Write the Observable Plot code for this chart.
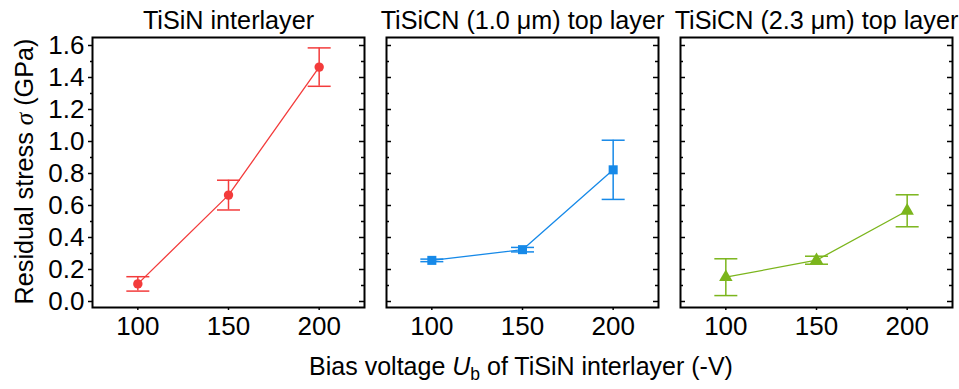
<!DOCTYPE html>
<html>
<head>
<meta charset="utf-8">
<script src="https://cdn.jsdelivr.net/npm/d3@7"></script>
<script src="https://cdn.jsdelivr.net/npm/@observablehq/plot@0.6"></script>
<style>
  html, body { margin: 0; padding: 0; background: white; }
  #chart { width: 959px; height: 389px; }
</style>
</head>
<body>
<div id="chart"></div>
<script>
// ---- data ----
const panels = ["TiSiN interlayer", "TiSiCN (1.0 μm) top layer", "TiSiCN (2.3 μm) top layer"];
const voltages = [100, 150, 200];
const stressInterlayer = [0.11, 0.665, 1.465];
const errorInterlayer = [0.045, 0.093, 0.12];
const stressTop10 = [0.257, 0.324, 0.823];
const errorTop10 = [0.008, 0.014, 0.185];
const stressTop23 = [0.152, 0.258, 0.567];
const errorTop23 = [0.115, 0.025, 0.10];
const xTicks = [100, 150, 200];
const yTicks = [0.0, 0.2, 0.4, 0.6, 0.8, 1.0, 1.2, 1.4, 1.6];
const yMinorTicks = [0.1, 0.3, 0.5, 0.7, 0.9, 1.1, 1.3, 1.5];
const colors = ["#f33b3b", "#1689e8", "#7bb51c"];

// ---- table ----
const stress = [stressInterlayer, stressTop10, stressTop23];
const errors = [errorInterlayer, errorTop10, errorTop23];
const rows = panels.flatMap((s, i) => voltages.map((v, j) => ({s, v, y: stress[i][j], e: errors[i][j]})));
const caps = rows.flatMap(d => [{s: d.s, v: d.v, y: d.y - d.e}, {s: d.s, v: d.v, y: d.y + d.e}]);
const tickRows = (names, vals) => names.flatMap(s => vals.map(t => ({s, t})));

const capSymbol = {draw(ctx, size) { const r = Math.sqrt(size / Math.PI); ctx.moveTo(-r, 0); ctx.lineTo(r, 0); }};

const plot = Plot.plot({
  width: 959,
  height: 389,
  marginLeft: 92,
  marginRight: 7,
  marginTop: 37,
  marginBottom: 82,
  style: {fontFamily: "'Liberation Sans', Arial, sans-serif", fontSize: "23px", color: "black", background: "white"},
  fx: {domain: panels, paddingInner: 0.0764, paddingOuter: 0, axis: null, label: null},
  x: {domain: [75, 225]},
  y: {domain: [-0.0375, 1.65]},
  color: {domain: panels, range: colors},
  marks: [
    // panel titles
    Plot.text(panels, {fx: d => d, text: d => d, frameAnchor: "top", dy: -9, lineAnchor: "bottom", fontSize: 25.2}),
    // y axis (left panel)
    Plot.axisY({ticks: yTicks, anchor: "left", tickSize: 4, tickPadding: 4, fontSize: 26, tickFormat: d3.format(".1f"), label: null, strokeWidth: 1.5}),
    Plot.axisY({ticks: yMinorTicks, anchor: "left", tickSize: 2, tickFormat: () => "", label: null, strokeWidth: 1.5}),
    // inward ticks: left side of panels 2,3; right side of all panels
    Plot.tickY(tickRows(panels.slice(1), yTicks), {y: "t", fx: "s", insetRight: 267, strokeWidth: 1.5}),
    Plot.tickY(tickRows(panels.slice(1), yMinorTicks), {y: "t", fx: "s", insetRight: 269, strokeWidth: 1.5}),
    Plot.tickY(tickRows(panels, yTicks), {y: "t", fx: "s", insetLeft: 267, strokeWidth: 1.5}),
    Plot.tickY(tickRows(panels, yMinorTicks), {y: "t", fx: "s", insetLeft: 269, strokeWidth: 1.5}),
    // x axis
    Plot.axisX({ticks: xTicks, tickSize: 3, tickPadding: 6, fontSize: 26, label: null, strokeWidth: 1.5}),
    // data
    Plot.line(rows, {x: "v", y: "y", fx: "s", stroke: "s", strokeWidth: 1.3}),
    Plot.ruleX(rows, {x: "v", y1: d => d.y - d.e, y2: d => d.y + d.e, fx: "s", stroke: "s", strokeWidth: 1.5}),
    Plot.dot(caps, {x: "v", y: "y", fx: "s", stroke: "s", fill: "none", symbol: capSymbol, r: 11.5, strokeWidth: 1.5}),
    Plot.dot(rows, {filter: d => d.s === panels[0], x: "v", y: "y", fx: "s", fill: "s", symbol: "circle", r: 4.7}),
    Plot.dot(rows, {filter: d => d.s === panels[1], x: "v", y: "y", fx: "s", fill: "s", symbol: "square", r: 5.1}),
    Plot.dot(rows, {filter: d => d.s === panels[2], x: "v", y: "y", fx: "s", fill: "s", symbol: "triangle", r: 5}),
    Plot.frame({stroke: "black", strokeWidth: 2})
  ]
});

document.getElementById("chart").appendChild(plot);

// axis labels with italic / subscript parts
const svg = d3.select(plot);
const yl = svg.append("text")
  .attr("transform", "translate(33,171.5) rotate(-90)")
  .attr("text-anchor", "middle")
  .attr("font-size", 25.2)
  .attr("fill", "black");
yl.append("tspan").text("Residual stress ");
yl.append("tspan").attr("font-family", "'Liberation Serif', serif").attr("font-style", "italic").text("σ");
yl.append("tspan").text(" (GPa)");

const xl = svg.append("text")
  .attr("x", 521).attr("y", 375)
  .attr("text-anchor", "middle")
  .attr("font-size", 25)
  .attr("fill", "black");
xl.append("tspan").text("Bias voltage ");
xl.append("tspan").attr("font-style", "italic").text("U");
xl.append("tspan").attr("font-size", 17.5).attr("dy", 5).text("b");
xl.append("tspan").attr("dy", -5).text(" of TiSiN interlayer (-V)");
</script>
</body>
</html>
